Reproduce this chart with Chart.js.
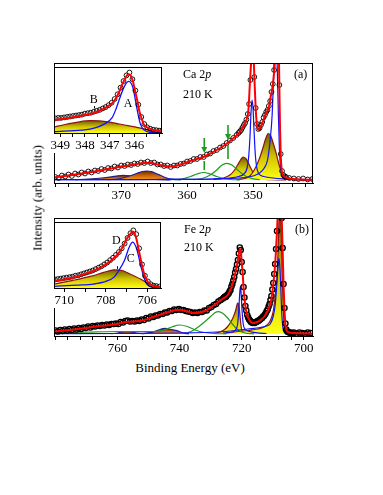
<!DOCTYPE html>
<html>
<head>
<meta charset="utf-8">
<script src="https://cdn.jsdelivr.net/npm/chart.js@4.4.1/dist/chart.umd.min.js"></script>
<style>
  body { margin: 0; background: #fff; }
  #wrap { position: relative; width: 383px; height: 495px; overflow: hidden; font-family: 'Liberation Serif', 'Times New Roman', serif; color: #000; }
  canvas { position: absolute; }
  .txt { position: absolute; font-size: 12px; line-height: 1; white-space: nowrap; }
</style>
</head>
<body>
<div id="wrap">
  <canvas id="caMain" width="383" height="205" style="left:0;top:0"></canvas>
  <canvas id="caInset" width="127" height="91" style="left:40px;top:62px"></canvas>
  <canvas id="feMain" width="383" height="148" style="left:0;top:210px"></canvas>
  <canvas id="feInset" width="126" height="91" style="left:40px;top:217px"></canvas>

  <div class="txt" style="left:183px;top:68px">Ca 2<i>p</i></div>
  <div class="txt" style="left:183px;top:88px">210 K</div>
  <div class="txt" style="left:294px;top:68px">(a)</div>
  <div class="txt" style="left:184px;top:223px">Fe 2<i>p</i></div>
  <div class="txt" style="left:184px;top:241px">210 K</div>
  <div class="txt" style="left:295px;top:223px">(b)</div>
  <div class="txt" style="left:190px;top:361px;font-size:13px;transform:translateX(-50%)">Binding Energy (eV)</div>
  <div class="txt" style="left:37px;top:198px;font-size:13px;transform:translate(-50%,-50%) rotate(-90deg)">Intensity (arb. units)</div>
</div>

<script>
// ---------- Ca 2p, panel (a) ----------
const caTickLabels = [370, 360, 350];
// measured points: three blocks with different energy steps
const caDataA = [3, 2, 4.5, 3.5, 5.5, 4, 6.5, 5.5, 7.5, 6.5,
  8.5, 7.5, 9.5, 9, 11, 10, 12, 11.5, 13.5, 12.5,
  14.5, 14, 15.5, 15, 16.5, 16, 17.5, 17, 18.5, 17,
  17.5, 15.5, 15.5, 14, 14.5, 13, 14.5, 14.5, 16, 16.5,
  18.5, 19, 21, 21, 23, 23, 25.5, 26.5, 29, 30,
  32.5, 34, 37, 39.5, 42, 45];
const caDataB = [47, 48.5, 50, 52.5, 55, 57, 60.5, 66, 76, 100,
  122, 127, 103, 72, 56, 51, 52, 55, 58, 62.5,
  65, 68, 70, 74, 79, 88, 96, 110, 135, 180,
  175, 95, 26, 9, 5, 3.5, 3];
const caDataC = [2, 1.5, 1, 1.5, 0.5, 1];

const caFitE = [380.2, 378, 376, 374, 372, 370, 368, 366.5, 365.5, 364.5,
  363.5, 362.5, 361.5, 360.5, 359.5, 358.5, 357.5, 356.5, 355.5, 354.5,
  353.5, 352.5, 352, 351.5, 351, 350.7, 350.45, 350.2, 350.05, 349.9,
  349.75, 349.6, 349.45, 349.3, 349.15, 349, 348.7, 348.3, 348, 347.6,
  347.3, 347, 346.8, 346.6, 346.45, 346.3, 346.15, 346.02, 345.9, 345.8,
  345.65, 345.5, 345.2, 345, 344, 343, 340.9];
const caFitV = [2.5, 4.5, 6.5, 8.5, 11, 13.5, 15.5, 17, 17, 15.5,
  14, 13.5, 14.5, 16.5, 19, 21, 23, 26.5, 30, 34,
  39, 44.5, 48, 53, 60, 70, 100, 125, 128, 120,
  95, 72, 58, 52, 50.5, 51.5, 55, 62, 67, 73,
  84, 95, 108, 130, 170, 190, 160, 100, 50, 25,
  10, 5.5, 3, 2.5, 1, 0.5, 0.3];

const caBlue1E = [380.2, 370, 360, 356, 353.5, 352.2, 351.4, 350.9, 350.65, 350.45, 350.3, 350.15, 350.0, 349.85, 349.65, 349.45, 349.2, 348.8, 348, 347, 345.5, 343, 340.9];
const caBlue1V = [0.3, 0.4, 0.6, 1, 2, 3.5, 6, 12, 24, 45, 68, 80, 72, 50, 25, 13, 7, 4.5, 3, 2, 1.2, 0.6, 0.4];
const caBlue2E = [380.2, 365, 356, 352, 350, 349, 348.3, 347.8, 347.4, 347.1, 346.9, 346.75, 346.6, 346.45, 346.3, 346.15, 346.0, 345.85, 345.7, 345.5, 345.2, 344.5, 343, 340.9];
const caBlue2V = [0.3, 0.5, 1, 2, 4, 7, 12, 20, 40, 65, 100, 135, 155, 140, 105, 65, 32, 14, 6, 3, 1.5, 0.7, 0.4, 0.3];
const caYellowBigE = [352.5, 351, 350.5, 350, 349.5, 349, 348.5, 348.1, 347.7, 347.3, 346.9, 346.5, 346, 345.5, 345, 344.5, 343.5, 341.5];
const caYellowBigV = [0.3, 2, 4, 8, 14, 22, 32, 41, 46.5, 44, 36, 27, 14, 6, 2.5, 1, 0.4, 0.2];
const caYellowSmallE = [356, 354.5, 353.5, 352.8, 352.3, 351.9, 351.5, 351.1, 350.7, 350.5, 350.1, 349.6, 349, 347.5, 345];
const caYellowSmallV = [0.5, 2, 5, 10, 15.5, 20, 23, 21.5, 17, 14, 9, 4, 1.5, 0.4, 0.2];
const caGreen1E = [362, 360.5, 359.5, 358.5, 357.5, 356.5, 355.5, 354.5, 353.5, 352];
const caGreen1V = [0.3, 1.5, 3.5, 6, 7.5, 6, 3.5, 1.5, 0.5, 0.2];
const caGreen2E = [359, 357.5, 356.5, 355.5, 354.8, 354, 353.2, 352.5, 351.8, 351, 350, 349];
const caGreen2V = [0.3, 2, 5, 10, 14.5, 16.7, 15, 11, 7, 3.5, 1.2, 0.3];
const caOrangeE = [377, 375, 373, 371.5, 370.5, 369.7, 368.8, 367.8, 366.8, 365.5, 364, 362.5];
const caOrangeV = [0.3, 1, 2, 3.2, 4.2, 4.6, 4.2, 3.3, 2.2, 1.1, 0.4, 0.1];
const caBrownE = [372, 370.5, 369.5, 368.5, 367.5, 366.8, 366.1, 365.4, 364.7, 364, 363.2, 362.3, 361];
const caBrownV = [0.3, 1, 2.5, 4.5, 7, 8.5, 9, 8.3, 6.5, 4.5, 2.3, 0.8, 0.2];

// green arrows marking the satellites
const caArrowE = [357.4, 353.8];
const caArrowTop = [42, 55];
const caArrowTip = [27, 40];
const caMarkTop = [19, 35];
const caMarkBottom = [10, 21];

// inset (a)
const caInsetTickLabels = [349, 348, 347, 346];
const caInsetData = [15.5, 16, 16, 16.5, 17, 17.5, 18, 18.5, 19, 19.5,
  20.5, 21, 21.5, 22.5, 23.5, 24.5, 26, 27.5, 29.5, 32,
  36, 41, 48, 55, 61, 64, 57, 45, 30, 17,
  9.5, 6, 4.5, 3.5, 3, 2.5, 2.5];
const caInsetFitE = [349.25, 349.0, 348.7, 348.4, 348.1, 347.8, 347.5, 347.2, 347.0, 346.85,
  346.7, 346.6, 346.5, 346.4, 346.3, 346.23, 346.15, 346.06, 346.0, 345.93,
  345.85, 345.8, 345.7, 345.63, 345.5, 345.4, 345.2, 345.08, 344.88];
const caInsetFitV = [13.5, 14.5, 15.7, 17, 18.5, 20, 22.5, 26.3, 29.5, 33,
  39, 44.7, 51, 56.3, 61, 62.3, 61, 54.7, 48, 39.7,
  30, 23, 15, 9.7, 6, 4.7, 3, 2.3, 1.7];
const caInsetYellowE = [349.25, 348.8, 348.3, 347.8, 347.4, 347, 346.6, 346.2, 345.9, 345.5, 345.1, 344.88];
const caInsetYellowV = [6.3, 9, 11.5, 13, 12.8, 11.5, 9.5, 7.5, 6, 3.5, 0.8, 0.2];
const caInsetBlueE = [349.25, 348.5, 347.7, 347.2, 346.9, 346.75, 346.6, 346.4, 346.23, 346.06, 345.9, 345.76, 345.6, 345.4, 345.1, 344.88];
const caInsetBlueV = [1.3, 2.5, 4.7, 9.7, 16.3, 25, 36.3, 49.7, 54.7, 48, 26.3, 9.7, 3, 0.8, 0.3, 0.2];
const caInsetLetters = ['B', 'A'];
const caInsetLetterE = [347.64, 346.26];
const caInsetLetterV = [34.7, 31.3];
const caInsetTickE = [347.62];
const caInsetTickV = [[26, 28.5]];

// ---------- Fe 2p, panel (b) ----------
const feTickLabels = [760, 740, 720, 700];
const feDataA = [3.5, 2.5, 4, 3, 4.5, 3.5, 5, 4, 5.5, 4.5,
  6, 5, 6.5, 6, 7.5, 6.5, 8, 7.5, 8.5, 8,
  9, 8.5, 9.5, 9, 10, 10, 10.5, 10, 12, 11.5,
  13, 13.5, 12.5, 13, 12.5, 13.5, 13, 14.5, 14, 16,
  15.5, 17.5, 17, 18.5, 18.5, 20, 20, 21.5, 21.5, 23,
  23, 24.5, 24, 25, 24, 24, 23, 22.5, 22, 21,
  21.5, 21, 22, 22, 23.5, 23.5, 26, 27, 29, 30,
  32.5, 34, 35.5];
const feDataB = [36.5, 37.5, 37, 38.5, 39.5, 40.5, 42.5, 44, 47.5, 50,
  53.5, 57, 61.5, 65, 69.5, 74, 80.5, 86.5, 84, 72,
  62, 47, 36.5, 28, 23.5, 19, 16.5, 14.5, 13.5, 12,
  11.5, 11, 11.5, 11, 12, 12, 13, 13, 14, 14.5,
  15.5, 16, 17.5, 18, 19.5, 21, 23, 24.5, 27.5, 30,
  34, 38, 44.5, 51, 60, 70, 85, 103, 125, 150,
  163, 152, 116, 86, 50, 26, 10.5, 4.5, 2.5, 2,
  1.5, 1.5, 1, 1];
const feDataC = [1.5, 0.5, 1.5, 1, 0.5, 1.5, 1];

const feFitE = [780.5, 777, 774, 770, 767, 764, 761, 758, 755, 752,
  749, 746, 743, 741, 739.5, 737.5, 735.5, 733.5, 731.5, 729.5,
  727.5, 726, 724.5, 723.5, 722.5, 721.5, 721, 720.6, 720.3, 720,
  719.7, 719.4, 719.1, 718.8, 718.4, 718, 717.5, 717, 716.4, 715.7,
  715, 714.2, 713.5, 712.7, 712, 711.4, 710.8, 710.3, 709.8, 709.4,
  709, 708.6, 708.3, 708, 707.7, 707.4, 707.1, 706.8, 706.5, 706.2,
  705.9, 705.6, 705.2, 704.6, 703.5, 701, 697];
const feFitV = [2.5, 3.5, 4.5, 6, 7.5, 8.5, 9.5, 11.5, 12.5, 13.5,
  16.5, 19.5, 22.5, 24, 24, 22.5, 21, 21.5, 23.5, 27.5,
  32, 35.5, 39, 45, 55, 69, 78, 85, 84, 72,
  62, 47, 36, 28, 21, 17, 14, 12, 11, 11.3,
  12, 13.3, 15, 17.5, 21, 24.5, 30, 37, 50, 62,
  80, 103, 125, 150, 165, 155, 118, 85, 50, 25,
  10, 4.5, 2.5, 1.5, 1, 0.8, 0.5];

const feBlue720E = [726, 723, 722, 721.3, 720.9, 720.6, 720.4, 720.2, 719.9, 719.5, 718.8, 717.5, 715, 712];
const feBlue720V = [1, 2, 4, 10, 25, 42, 47.3, 42, 25, 10, 4.5, 2.5, 1.2, 0.5];
const feBlueMainE = [780.5, 760, 740, 728, 722, 718, 714, 712, 710.8, 709.8, 709.2, 708.7, 708.3, 708.0, 707.7, 707.4, 707.1, 706.8, 706.5, 706.1, 705.6, 704.5, 702, 697];
const feBlueMainV = [0.3, 0.5, 1, 2, 3.5, 5, 6.5, 8, 10, 18, 29, 48, 66, 75.7, 68, 48, 22, 9, 3, 1.5, 0.8, 0.5, 0.3, 0.2];
const feYellowMainE = [725, 721, 718, 716, 714, 712.5, 711, 710.2, 709.7, 709.3, 708.9, 708.6, 708.3, 708, 707.7, 707.4, 707.1, 706.8, 706.5, 706.2, 705.9, 705.5, 704.5, 702];
const feYellowMainV = [1, 2.5, 3.5, 4.5, 5.5, 7.5, 12, 18, 25, 35, 47, 58, 80, 110, 128, 120, 80, 45, 19, 7, 2.5, 1, 0.5, 0.2];
const feYellow721E = [729, 727, 725.5, 724.5, 723.5, 722.7, 722, 721.6, 721.3, 721, 720.7, 720.4, 720.1, 719.7, 719];
const feYellow721V = [0.5, 2, 4.5, 7.5, 12, 17, 23, 28, 31, 30, 24, 14, 6, 2, 0.5];
const feGreenBigE = [738, 736, 734, 732, 730, 728.5, 727.5, 726, 724.5, 723, 721.5, 720, 718, 716];
const feGreenBigV = [0.8, 3, 7, 12, 17.5, 21.5, 22.3, 20.5, 16, 10, 5, 2, 0.6, 0.2];
const feGreenSmallE = [780.5, 770, 760, 752, 748, 745, 742.5, 740, 737.5, 735, 732, 729, 725];
const feGreenSmallV = [1, 1.8, 2.5, 2.5, 2.5, 4, 7, 9, 7.5, 4, 1.5, 0.5, 0.2];
const feOrangeE = [752, 749.5, 748, 746.5, 745.3, 744.7, 744, 742.5, 740.9, 739.5, 738.2, 737];
const feOrangeV = [0.3, 1.3, 2.7, 4.3, 5.4, 5.7, 5.4, 4.3, 3.3, 1.8, 0.7, 0.2];
const feOrangeSmallE = [762, 760, 758.5, 757, 755.5, 754, 752];
const feOrangeSmallV = [0.3, 1, 2, 2.5, 2, 1, 0.3];

// inset (b)
const feInsetTickLabels = [710, 708, 706];
const feInsetData = [9, 9.5, 10, 10.5, 11, 11.5, 12, 13, 13.5, 14.5,
  15.5, 16.5, 17.5, 18.5, 20, 21.5, 23, 25, 27, 29.5,
  32, 35, 38, 42, 47, 53, 58, 61, 57, 42,
  25, 13, 7, 4, 2.5, 2, 1.5];
const feInsetFitE = [710.5, 710.0, 709.6, 709.2, 708.67, 708.3, 708.04, 707.8, 707.57, 707.4,
  707.26, 707.1, 707.02, 706.9, 706.8, 706.7, 706.6, 706.55, 706.47, 706.4,
  706.3, 706.24, 706.1, 706.0, 705.85, 705.76, 705.5, 705.33];
const feInsetFitV = [7.5, 9, 10.8, 13.5, 17.5, 21, 24.2, 28, 32.5, 36.5,
  40.8, 47, 50.8, 55, 57.5, 59.8, 57.5, 54.2, 47, 39.2,
  29, 22.5, 12, 7.5, 4, 2.5, 1.2, 0.8];
const feInsetYellowE = [710.5, 709.6, 708.7, 708.1, 707.6, 707.2, 706.95, 706.6, 706.3, 706, 705.7, 705.33];
const feInsetYellowV = [4.2, 8, 12.5, 16.5, 19.2, 18.5, 16, 12.5, 9.2, 5.5, 2.5, 0.8];
const feInsetBlueE = [710.5, 709.4, 708.6, 708, 707.6, 707.4, 707.1, 706.85, 706.7, 706.5, 706.3, 706.1, 705.9, 705.6, 705.33];
const feInsetBlueV = [1.8, 3, 4.2, 7, 11.5, 17.5, 29.2, 44.2, 48.5, 40.8, 22.5, 7.5, 1.8, 0.6, 0.3];
const feInsetLetters = ['D', 'C'];
const feInsetLetterE = [707.49, 706.79];
const feInsetLetterV = [49.7, 31.3];
const feInsetTickE = [707.45];
const feInsetTickV = [[20.3, 23]];


Chart.defaults.font.family = "'Liberation Serif', 'Times New Roman', serif";
Chart.defaults.color = '#000';

const RED = '#ff0000';
const BLUE = '#1010ff';
const GREEN = '#1f9b1f';
const BROWN = '#8b1414';
const NAVY = '#202090';

function xy(es, vs) {
    return es.map((e, i) => ({ x: e, y: vs[i] }));
}

// evenly stepped spectrum block, energies counted down from start
function block(start, step, vs) {
    return vs.map((v, i) => ({ x: +(start - i * step).toFixed(2), y: v }));
}

function shade(top, mid, bottom) {
    return function (context) {
        const chart = context.chart;
        if (!chart.chartArea) return bottom;
        const yScale = chart.scales.y;
        const ds = chart.data.datasets[context.datasetIndex];
        const peak = Math.min(Math.max(...ds.data.map(p => p.y)), yScale.max);
        const g = chart.ctx.createLinearGradient(0, yScale.getPixelForValue(peak), 0, yScale.getPixelForValue(0));
        g.addColorStop(0, top);
        g.addColorStop(0.5, mid);
        g.addColorStop(1, bottom);
        return g;
    };
}
const yellowFill = shade('#6e6000', '#d2c400', '#ffff14');
const orangeFill = shade('#6a2c00', '#c8620c', '#ff9a14');

function dots(data, r, bw) {
    return { data, showLine: false, pointRadius: r, pointBorderWidth: bw, pointBorderColor: '#000',
        pointBackgroundColor: 'rgba(255,255,255,0)', order: 1 };
}
function curve(data, color, width, order) {
    return { data, borderColor: color, borderWidth: width, pointRadius: 0,
        cubicInterpolationMode: 'monotone', fill: false, order };
}
function area(data, edge, fill) {
    return { data, borderColor: edge, borderWidth: 1.2, pointRadius: 0,
        cubicInterpolationMode: 'monotone', fill: 'origin', backgroundColor: fill, order: 3 };
}

// frame around the plot area, white backing for insets, letters / arrows
const framePlugin = {
    id: 'frame',
    beforeDraw(chart, args, opts) {
        if (!opts.backing) return;
        const { ctx, chartArea: a } = chart;
        ctx.save();
        ctx.fillStyle = '#fff';
        ctx.fillRect(a.left, a.top, a.right - a.left, chart.height - a.top);
        ctx.restore();
    },
    afterDraw(chart) {
        const { ctx, chartArea: a } = chart;
        ctx.save();
        ctx.strokeStyle = '#000';
        ctx.lineWidth = 1;
        ctx.strokeRect(Math.round(a.left) + 0.5, Math.round(a.top) + 0.5,
            Math.round(a.right - a.left) - 1, Math.round(a.bottom - a.top));
        ctx.restore();
    }
};

const marksPlugin = {
    id: 'marks',
    afterDatasetsDraw(chart, args, opts) {
        const { ctx, scales: { x, y } } = chart;
        ctx.save();
        (opts.arrows || []).forEach(a => {
            const px = x.getPixelForValue(a.e);
            const yTop = y.getPixelForValue(a.top);
            const yTip = y.getPixelForValue(a.tip);
            ctx.strokeStyle = GREEN;
            ctx.fillStyle = GREEN;
            ctx.lineWidth = 1.6;
            ctx.beginPath();
            ctx.moveTo(px, yTop);
            ctx.lineTo(px, yTip - 5);
            ctx.stroke();
            ctx.beginPath();
            ctx.moveTo(px - 3, yTip - 6);
            ctx.lineTo(px + 3, yTip - 6);
            ctx.lineTo(px, yTip);
            ctx.closePath();
            ctx.fill();
            ctx.beginPath();
            ctx.moveTo(px, y.getPixelForValue(a.markTop));
            ctx.lineTo(px, y.getPixelForValue(a.markBottom));
            ctx.stroke();
        });
        ctx.fillStyle = '#000';
        ctx.font = "12px 'Liberation Serif', serif";
        ctx.textAlign = 'center';
        ctx.textBaseline = 'middle';
        (opts.letters || []).forEach(l => {
            ctx.fillText(l.text, x.getPixelForValue(l.e), y.getPixelForValue(l.v));
        });
        ctx.strokeStyle = '#000';
        ctx.lineWidth = 1;
        (opts.ticks || []).forEach(t => {
            const px = Math.round(x.getPixelForValue(t.e)) + 0.5;
            ctx.beginPath();
            ctx.moveTo(px, y.getPixelForValue(t.v[0]));
            ctx.lineTo(px, y.getPixelForValue(t.v[1]));
            ctx.stroke();
        });
        ctx.restore();
    }
};

function axisX(min, max, step, labels, height, fontSize) {
    return {
        type: 'linear', reverse: true, min, max,
        afterFit: scale => { scale.height = height; },
        ticks: {
            stepSize: step, autoSkip: false, includeBounds: false, maxRotation: 0, padding: 1,
            font: { size: fontSize }, color: '#000',
            callback: v => labels.includes(Math.round(v * 100) / 100) ? String(Math.round(v)) : ''
        },
        grid: { drawOnChartArea: false, drawTicks: true, tickLength: 4, color: '#000', lineWidth: 1 },
        border: { display: true, color: '#000', width: 1 }
    };
}

function drawPanel(canvasId, datasets, xAxis, yMin, yMax, padding, extra) {
    const canvas = document.getElementById(canvasId);
    const ctx = canvas.getContext('2d');
    return new Chart(ctx, {
        type: 'line',
        data: { datasets },
        options: {
            responsive: false,
            animation: false,
            devicePixelRatio: 1,
            events: [],
            layout: { padding },
            scales: {
                x: xAxis,
                y: { display: false, min: yMin, max: yMax }
            },
            plugins: Object.assign({ legend: { display: false }, tooltip: { enabled: false } }, extra)
        },
        plugins: [framePlugin, marksPlugin]
    });
}

function initializeFigure() {
    // panel (a)
    drawPanel('caMain', [
        curve(xy(caFitE, caFitV), RED, 2, 0),
        dots(block(380, 0.5, caDataA).concat(block(352.2, 0.2, caDataB), block(344.5, 0.7, caDataC)), 2.4, 0.9),
        curve(xy(caBlue1E, caBlue1V), BLUE, 1.2, 2),
        curve(xy(caBlue2E, caBlue2V), BLUE, 1.2, 2),
        curve(xy(caGreen1E, caGreen1V), GREEN, 1.2, 2),
        curve(xy(caGreen2E, caGreen2V), GREEN, 1.2, 2),
        area(xy(caYellowBigE, caYellowBigV), BROWN, yellowFill),
        area(xy(caYellowSmallE, caYellowSmallV), BROWN, yellowFill),
        area(xy(caBrownE, caBrownV), NAVY, orangeFill),
        area(xy(caOrangeE, caOrangeV), NAVY, orangeFill)
    ], axisX(340.9, 380.2, 2, caTickLabels, 22, 13), -3, 117,
    { left: 54, right: 70, top: 63, bottom: 0 },
    { marks: { arrows: caArrowE.map((e, i) => ({ e, top: caArrowTop[i], tip: caArrowTip[i], markTop: caMarkTop[i], markBottom: caMarkBottom[i] })) } });

    drawPanel('caInset', [
        curve(xy(caInsetFitE, caInsetFitV), RED, 2, 0),
        dots(block(349.2, 0.12, caInsetData), 2.4, 0.9),
        curve(xy(caInsetBlueE, caInsetBlueV), BLUE, 1.3, 2),
        area(xy(caInsetYellowE, caInsetYellowV), BROWN, yellowFill)
    ], axisX(344.88, 349.25, 0.5, caInsetTickLabels, 20, 13), 0, 70,
    { left: 14, right: 1, top: 1, bottom: 0 },
    { frame: { backing: true },
      marks: {
        letters: caInsetLetters.map((t, i) => ({ text: t, e: caInsetLetterE[i], v: caInsetLetterV[i] })),
        ticks: caInsetTickE.map((e, i) => ({ e, v: caInsetTickV[i] }))
      } });

    // panel (b)
    drawPanel('feMain', [
        curve(xy(feFitE, feFitV), RED, 2, 0),
        dots(block(780, 0.75, feDataA).concat(block(725.7, 0.3, feDataB), block(703.2, 0.9, feDataC)), 2.6, 1.4),
        curve(xy(feBlue720E, feBlue720V), BLUE, 1.2, 2),
        curve(xy(feBlueMainE, feBlueMainV), BLUE, 1.2, 2),
        curve(xy(feGreenBigE, feGreenBigV), GREEN, 1.2, 2),
        curve(xy(feGreenSmallE, feGreenSmallV), GREEN, 1.2, 2),
        area(xy(feYellowMainE, feYellowMainV), BROWN, yellowFill),
        area(xy(feYellow721E, feYellow721V), BROWN, yellowFill),
        area(xy(feOrangeE, feOrangeV), NAVY, orangeFill),
        area(xy(feOrangeSmallE, feOrangeSmallV), NAVY, orangeFill)
    ], axisX(697, 780.5, 4, feTickLabels, 22, 13), -2, 116,
    { left: 54, right: 70, top: 8, bottom: 0 }, {});

    drawPanel('feInset', [
        curve(xy(feInsetFitE, feInsetFitV), RED, 2, 0),
        dots(block(710.45, 0.14, feInsetData), 2.4, 0.9),
        curve(xy(feInsetBlueE, feInsetBlueV), BLUE, 1.3, 2),
        area(xy(feInsetYellowE, feInsetYellowV), BROWN, yellowFill)
    ], axisX(705.33, 710.5, 1, feInsetTickLabels, 20, 13), 0, 70,
    { left: 14, right: 1, top: 1, bottom: 0 },
    { frame: { backing: true },
      marks: {
        letters: feInsetLetters.map((t, i) => ({ text: t, e: feInsetLetterE[i], v: feInsetLetterV[i] })),
        ticks: feInsetTickE.map((e, i) => ({ e, v: feInsetTickV[i] }))
      } });
}

initializeFigure();
</script>
</body>
</html>
